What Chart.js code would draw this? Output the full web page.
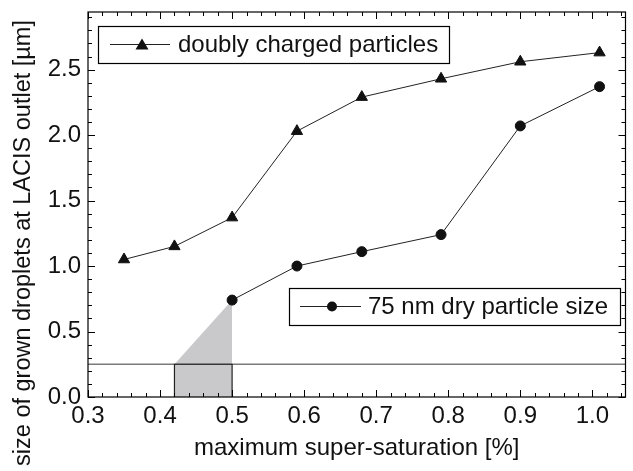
<!DOCTYPE html>
<html>
<head>
<meta charset="utf-8">
<script src="https://cdn.jsdelivr.net/npm/chart.js@4.4.1/dist/chart.umd.min.js"></script>
<style>
  html, body { margin: 0; padding: 0; background: #fff; }
  #wrap { width: 633px; height: 471px; position: relative; }
</style>
</head>
<body>
<div id="wrap"><canvas id="grafico" width="633" height="471"></canvas></div>
<script>
// dados
const duplaX = [0.35, 0.42, 0.50, 0.59, 0.68, 0.79, 0.90, 1.01];
const duplaY = [1.05, 1.15, 1.37, 2.03, 2.29, 2.43, 2.56, 2.63];
const secaX = [0.50, 0.59, 0.68, 0.79, 0.90, 1.01];
const secaY = [0.74, 1.00, 1.11, 1.24, 2.07, 2.37];

// limiar e região sombreada
const limiarY = 0.25;
const sombraX = [0.42, 0.42, 0.50, 0.50];
const sombraY = [0, 0.25, 0.74, 0];
const caixaX = [0.42, 0.42, 0.50, 0.50];
const caixaY = [0, 0.25, 0.25, 0];

const nomes = ["doubly charged particles", "75 nm dry particle size"];
const tituloX = "maximum super-saturation [%]";
const tituloY = "size of grown droplets at LACIS outlet [µm]";

const xMin = 0.3, xMax = 1.046;
const yMin = 0, yMax = 2.94;

const pares = (xs, ys) => xs.map((x, i) => ({ x: x, y: ys[i] }));
const fonte = "Liberation Sans, Arial, sans-serif";
const tam = 24;

// desenha moldura, ticks internos, legendas e título do eixo y
const extras = {
  id: 'extras',
  afterDatasetsDraw(chart) {
    const c = chart.ctx;
    const a = chart.chartArea;
    const sx = chart.scales.x, sy = chart.scales.y;
    c.save();
    c.strokeStyle = '#000';
    c.lineWidth = 1.2;
    c.strokeRect(a.left, a.top, a.right - a.left, a.bottom - a.top);

    c.lineWidth = 1;
    c.beginPath();
    for (let i = 0; i <= 40; i++) {
      const v = +(0.3 + i * 0.02).toFixed(2);
      if (v > xMax) break;
      const px = Math.round(sx.getPixelForValue(v)) + 0.5;
      const len = (Math.round(v * 100) % 10 === 0) ? 7 : 4;
      c.moveTo(px, a.bottom); c.lineTo(px, a.bottom - len);
      c.moveTo(px, a.top); c.lineTo(px, a.top + len);
    }
    for (let i = 0; i <= 30; i++) {
      const v = +(i * 0.1).toFixed(1);
      if (v > yMax) break;
      const py = Math.round(sy.getPixelForValue(v)) + 0.5;
      const len = (i % 5 === 0) ? 7 : 4;
      c.moveTo(a.left, py); c.lineTo(a.left + len, py);
      c.moveTo(a.right, py); c.lineTo(a.right - len, py);
    }
    c.stroke();

    // legendas
    const legenda = (bx, by, bw, bh, l0, l1, mx, tx, texto, marca) => {
      c.fillStyle = '#fff';
      c.fillRect(bx, by, bw, bh);
      c.strokeStyle = '#000';
      c.lineWidth = 1.2;
      c.strokeRect(bx + 0.5, by + 0.5, bw, bh);
      const cy = by + bh / 2;
      c.strokeStyle = '#222';
      c.lineWidth = 1;
      c.beginPath(); c.moveTo(l0, cy); c.lineTo(l1, cy); c.stroke();
      c.fillStyle = '#111';
      c.beginPath();
      if (marca === 'tri') {
        c.moveTo(mx, cy - 6); c.lineTo(mx + 6.5, cy + 5); c.lineTo(mx - 6.5, cy + 5); c.closePath();
      } else {
        c.arc(mx, cy, 5, 0, Math.PI * 2);
      }
      c.fill();
      c.fillStyle = '#111';
      c.font = tam + 'px ' + fonte;
      c.textBaseline = 'middle';
      c.textAlign = 'left';
      c.fillText(texto, tx, cy + 1);
    };
    legenda(98, 26, 351, 37, 110, 170, 142, 178, nomes[0], 'tri');
    legenda(289, 288, 331, 37, 300, 361, 332, 368, nomes[1], 'circ');

    // título do eixo y
    c.translate(24, 243);
    c.rotate(-Math.PI / 2);
    c.fillStyle = '#111';
    c.font = '23.5px ' + fonte;
    c.textAlign = 'center';
    c.textBaseline = 'middle';
    c.fillText(tituloY, 0, 0);
    c.restore();
  }
};

const ctx = document.getElementById('grafico').getContext('2d');
new Chart(ctx, {
  type: 'scatter',
  data: {
    datasets: [
      {
        label: nomes[0],
        data: pares(duplaX, duplaY),
        showLine: true,
        borderColor: '#222',
        borderWidth: 1,
        pointStyle: 'triangle',
        pointRadius: 6.5,
        pointBackgroundColor: '#111',
        pointBorderColor: '#111',
        order: 0
      },
      {
        label: nomes[1],
        data: pares(secaX, secaY),
        showLine: true,
        borderColor: '#222',
        borderWidth: 1,
        pointStyle: 'circle',
        pointRadius: 5,
        pointBackgroundColor: '#111',
        pointBorderColor: '#111',
        order: 1
      },
      {
        label: 'caixa',
        data: pares(caixaX, caixaY),
        showLine: true,
        borderColor: '#222',
        borderWidth: 1.2,
        pointRadius: 0,
        order: 2
      },
      {
        label: 'limiar',
        data: [{ x: xMin, y: limiarY }, { x: xMax, y: limiarY }],
        showLine: true,
        borderColor: '#7a7a7a',
        borderWidth: 1.5,
        pointRadius: 0,
        order: 3
      },
      {
        label: 'sombra',
        data: pares(sombraX, sombraY),
        showLine: true,
        borderWidth: 0,
        borderColor: 'rgba(0,0,0,0)',
        backgroundColor: '#c9c9cb',
        fill: 'origin',
        pointRadius: 0,
        order: 4
      }
    ]
  },
  options: {
    responsive: false,
    animation: false,
    layout: { padding: { top: 12, right: 1, left: 0, bottom: 0 } },
    plugins: {
      legend: { display: false },
      tooltip: { enabled: false }
    },
    scales: {
      x: {
        type: 'linear',
        min: xMin,
        max: xMax,
        grid: { display: false, drawTicks: false },
        border: { display: false },
        ticks: {
          stepSize: 0.1,
          includeBounds: false,
          padding: 5,
          color: '#111',
          font: { family: fonte, size: tam },
          callback: v => v.toFixed(1)
        },
        title: {
          display: true,
          text: tituloX,
          color: '#111',
          font: { family: fonte, size: tam },
          padding: { top: 0, bottom: 8 }
        },
        afterFit: s => { s.height = 74; s.paddingLeft = 0; s.paddingRight = 0; }
      },
      y: {
        type: 'linear',
        min: yMin,
        max: yMax,
        grid: { display: false, drawTicks: false },
        border: { display: false },
        ticks: {
          stepSize: 0.5,
          includeBounds: false,
          padding: 7,
          color: '#111',
          font: { family: fonte, size: tam },
          callback: v => v.toFixed(1)
        },
        afterFit: s => { s.width = 88; s.paddingTop = 0; s.paddingBottom = 0; }
      }
    }
  },
  plugins: [extras]
});
</script>
</body>
</html>
